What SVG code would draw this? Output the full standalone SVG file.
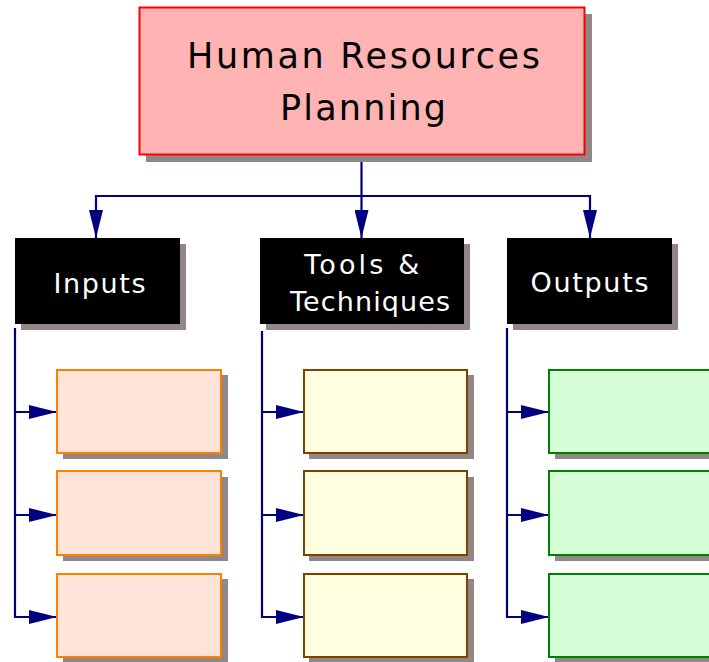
<svg xmlns="http://www.w3.org/2000/svg" width="709" height="662" viewBox="0 0 709 662">
<defs>
<style>
.sh{fill:#918787}
.hdr{fill:#000}
.t{font-family:"DejaVu Sans","Liberation Sans",sans-serif;text-anchor:middle}
.wt{fill:#fff;font-size:27px}
.in{fill:#fee3d8;stroke:#ff8000;stroke-width:2}
.tl{fill:#ffffe0;stroke:#804000;stroke-width:2}
.out{fill:#d7ffd7;stroke:#008000;stroke-width:2}
.c{fill:none;stroke:#000080;stroke-width:2.2}
</style>
<marker id="ah" viewBox="0 0 28 14" refX="28" refY="7" markerWidth="28" markerHeight="14" markerUnits="userSpaceOnUse" orient="auto">
<path d="M0,0 L28,7 L0,14 Z" fill="#000080"/>
</marker>
</defs>
<rect width="709" height="662" fill="#fff"/>
<g id="connectors">
<path class="c" d="M361.5,155 V196"/>
<path class="c" d="M361.5,196 H96 V238" marker-end="url(#ah)"/>
<path class="c" d="M361.5,196 H590 V238" marker-end="url(#ah)"/>
<path class="c" d="M361.5,196 V238" marker-end="url(#ah)"/>
<path class="c" d="M15,328 V617 H57" marker-end="url(#ah)"/>
<path class="c" d="M15,412 H57" marker-end="url(#ah)"/>
<path class="c" d="M15,515 H57" marker-end="url(#ah)"/>
<path class="c" d="M262,331 V617 H304" marker-end="url(#ah)"/>
<path class="c" d="M262,412 H304" marker-end="url(#ah)"/>
<path class="c" d="M262,515 H304" marker-end="url(#ah)"/>
<path class="c" d="M507,328 V617 H549" marker-end="url(#ah)"/>
<path class="c" d="M507,412 H549" marker-end="url(#ah)"/>
<path class="c" d="M507,515 H549" marker-end="url(#ah)"/>
</g>
<g id="hrp">
<rect class="sh" x="146" y="14" width="446" height="148"/>
<rect x="139.5" y="7.5" width="445" height="147" fill="#ffb3b3" stroke="#ff0000" stroke-width="2"/>
<text class="t" x="363.5" y="68" font-size="35" fill="#000" textLength="353" lengthAdjust="spacing">Human Resources</text>
<text class="t" x="363" y="120" font-size="35" fill="#000" textLength="166" lengthAdjust="spacing">Planning</text>
</g>
<g id="inputs">
<rect class="sh" x="21" y="244" width="165" height="86"/>
<rect class="hdr" x="15" y="238" width="165" height="86"/>
<text class="t wt" x="99.5" y="292.5" textLength="92" lengthAdjust="spacing">Inputs</text>
</g>
<g id="tools">
<rect class="sh" x="266" y="244" width="204" height="86"/>
<rect class="hdr" x="260" y="238" width="204" height="86"/>
<text class="t wt" x="361.7" y="274" textLength="115" lengthAdjust="spacing">Tools &amp;</text>
<text class="t wt" x="370" y="311" textLength="160" lengthAdjust="spacing">Techniques</text>
</g>
<g id="outputs">
<rect class="sh" x="513" y="244" width="165" height="86"/>
<rect class="hdr" x="507" y="238" width="165" height="86"/>
<text class="t wt" x="589.5" y="291.5" textLength="118" lengthAdjust="spacing">Outputs</text>
</g>
<g id="in1"><rect class="sh" x="63" y="375" width="165" height="84"/><rect class="in" x="57" y="370" width="164" height="83"/></g>
<g id="in2"><rect class="sh" x="63" y="477" width="165" height="84"/><rect class="in" x="57" y="471" width="164" height="84"/></g>
<g id="in3"><rect class="sh" x="63" y="579" width="165" height="84"/><rect class="in" x="57" y="574" width="164" height="83"/></g>
<g id="tl1"><rect class="sh" x="309" y="375" width="165" height="84"/><rect class="tl" x="304" y="370" width="163" height="83"/></g>
<g id="tl2"><rect class="sh" x="309" y="477" width="165" height="84"/><rect class="tl" x="304" y="471" width="163" height="84"/></g>
<g id="tl3"><rect class="sh" x="309" y="579" width="165" height="84"/><rect class="tl" x="304" y="574" width="163" height="83"/></g>
<g id="out1"><rect class="sh" x="555" y="375" width="165" height="84"/><rect class="out" x="549" y="370" width="170" height="83"/></g>
<g id="out2"><rect class="sh" x="555" y="477" width="165" height="84"/><rect class="out" x="549" y="471" width="170" height="84"/></g>
<g id="out3"><rect class="sh" x="555" y="579" width="165" height="84"/><rect class="out" x="549" y="574" width="170" height="83"/></g>
</svg>
